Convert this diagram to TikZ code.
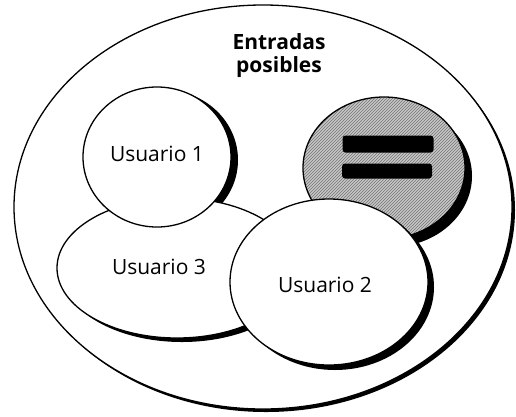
\documentclass[tikz,border=0pt]{standalone}
\usepackage{fontspec}
\setmainfont{Open Sans}
\usetikzlibrary{patterns}
\begin{document}
\begin{tikzpicture}[x=1pt,y=-1pt,
  outl/.style={draw=black,line width=1.3pt,fill=white},
  shad/.style={fill=black},
  lbl/.style={font=\fontsize{21}{25}\selectfont,inner sep=0pt},
  bar/.style={fill=black,rounded corners=3pt,inner sep=0pt}]
\useasboundingbox (0,0) rectangle (516,416);
% outer
\fill[shad] (266,210) ellipse [x radius=249pt, y radius=202pt];
\draw[outl] (263,207) ellipse [x radius=249pt, y radius=202pt];
\node[lbl,font=\fontsize{21}{25}\selectfont\bfseries] (title1) at (279,42) {Entradas};
\node[lbl,font=\fontsize{21}{25}\selectfont\bfseries] (title2) at (279,67) {posibles};
% gray circle
\fill[shad] (391,176) ellipse [x radius=81pt, y radius=71pt];
\fill[black!22] (384,168) ellipse [x radius=81pt, y radius=71pt];
\fill[pattern=north east lines,pattern color=black!55] (384,168) ellipse [x radius=81pt, y radius=71pt];
\draw[line width=1.3pt] (384,168) ellipse [x radius=81pt, y radius=71pt];
\node[bar,minimum width=91pt,minimum height=17pt] (bar1) at (388,144) {};
\node[bar,minimum width=90pt,minimum height=15pt] (bar2) at (387,171) {};
% Usuario 1 shadow
\fill[shad] (164,160) ellipse [x radius=74pt, y radius=70pt];
% Usuario 3
\fill[shad] (182,272) ellipse [x radius=120pt, y radius=70pt];
\draw[outl] (177,268) ellipse [x radius=120pt, y radius=70pt];
% Usuario 1
\draw[outl] (157,157) ellipse [x radius=74pt, y radius=70pt];
% Usuario 2
\fill[shad] (335,287) ellipse [x radius=99pt, y radius=83pt];
\draw[outl] (329,282) ellipse [x radius=99pt, y radius=83pt];
\node[lbl] (u1) at (157,154) {Usuario 1};
\node[lbl] (u3) at (159,267) {Usuario 3};
\node[lbl] (u2) at (325,285) {Usuario 2};
\end{tikzpicture}
\end{document}
